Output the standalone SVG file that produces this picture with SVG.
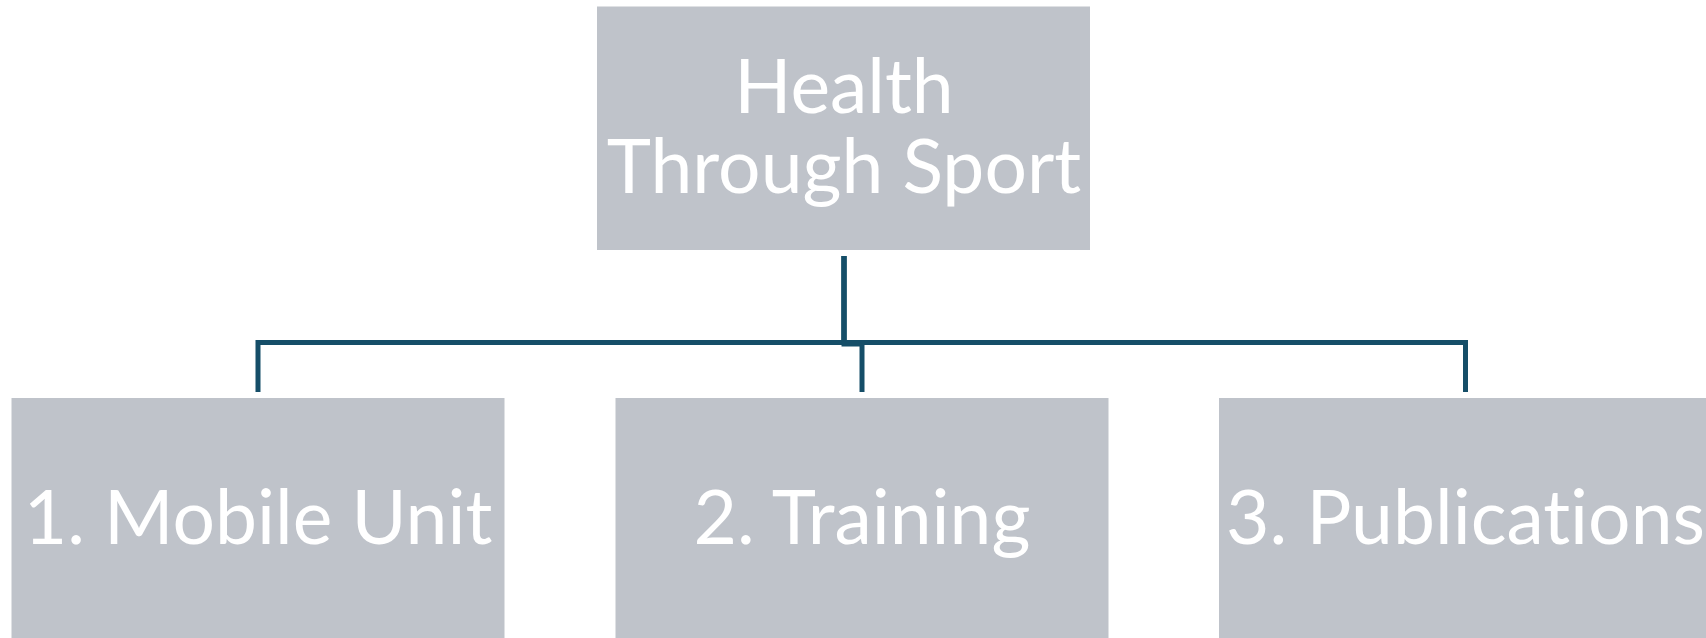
<svg xmlns="http://www.w3.org/2000/svg" width="1706" height="638" viewBox="0 0 1706 638">
<style>
.box{fill:#bfc3ca;}
.lbl{fill:#ffffff;font-family:Lato,"Liberation Sans",sans-serif;font-weight:400;font-size:75px;text-anchor:middle;font-variant-ligatures:none;}
.conn{fill:none;stroke:#154e68;stroke-width:5;stroke-linejoin:miter;}
</style>
<rect width="1706" height="638" fill="#ffffff"/>
<g id="connectors">
<path class="conn" d="M844 256 V342.5 H258 V392"/>
<path class="conn" d="M844 256 V344 H862 V392"/>
<path class="conn" d="M844 256 V342.5 H1465.5 V392"/>
</g>
<g id="node-root">
<rect class="box" x="597" y="6.5" width="493" height="243.5"/>
<text class="lbl"><tspan x="844" y="112.5">Health</tspan><tspan x="844" y="192.7">Through Sport</tspan></text>
</g>
<g id="node-mobile">
<rect class="box" x="11.5" y="398" width="493" height="244"/>
<text class="lbl" x="258" y="544">1. Mobile Unit</text>
</g>
<g id="node-training">
<rect class="box" x="615.5" y="398" width="493" height="244"/>
<text class="lbl" x="862" y="544">2. Training</text>
</g>
<g id="node-publications">
<rect class="box" x="1219" y="398" width="493" height="244"/>
<text class="lbl" x="1465.5" y="544">3. Publications</text>
</g>
</svg>
